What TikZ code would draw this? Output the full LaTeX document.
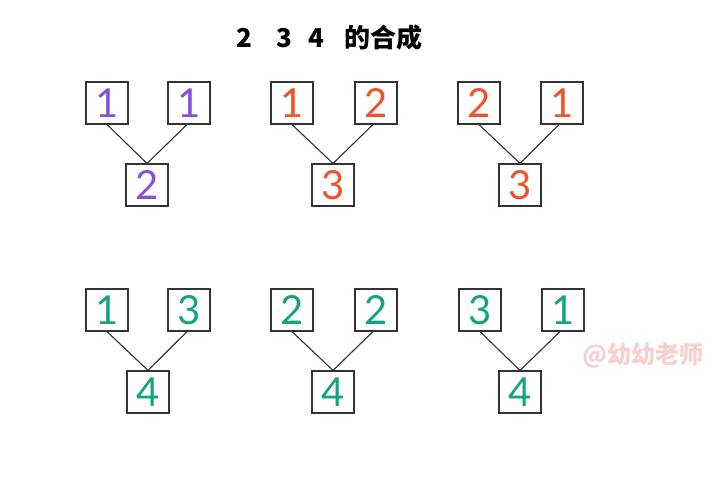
\documentclass[tikz,border=0pt]{standalone}
\usepackage{fontspec}
\usepackage{xcolor}
\usetikzlibrary{positioning}
\setmainfont{Lato}
\newfontfamily\cjk{Noto Sans CJK SC}
\definecolor{zipurple}{HTML}{8A4FD8}
\definecolor{zired}{HTML}{F0522A}
\definecolor{zigreen}{HTML}{16A37F}
\definecolor{shuiyin}{HTML}{F7CFCF}
\tikzset{
  numbox/.style={draw=black!80, line width=1.1pt, minimum width=42pt, minimum height=42pt,
    inner sep=0pt, font=\fontsize{40}{40}\selectfont},
  link/.style={draw=black!80, line width=1.1pt}
}

\begin{document}
\begin{tikzpicture}[x=1pt, y=-1pt]
     \useasboundingbox[fill=white] (0,0) rectangle (716,500);
     \node[anchor=west, inner sep=0pt, font=\cjk\bfseries\fontsize{26}{26}\selectfont] (title) at (236,38)
     {2\hspace{24pt}3\hspace{17pt}4\hspace{20pt}的合成};
     % 2 = 1 + 1
     \node[numbox, text=zipurple] (a1) at (107,103) {1};
     \node[numbox, text=zipurple] (a2) at (189,103) {1};
     \node[numbox, text=zipurple] (a0) at (147,185) {2};
     % 3 = 1 + 2
     \node[numbox, text=zired] (b1) at (292,103) {1};
     \node[numbox, text=zired] (b2) at (376,103) {2};
     \node[numbox, text=zired] (b0) at (333,185) {3};
     % 3 = 2 + 1
     \node[numbox, text=zired] (c1) at (479,103) {2};
     \node[numbox, text=zired] (c2) at (562,103) {1};
     \node[numbox, text=zired] (c0) at (520,185) {3};
     % 4 = 1 + 3
     \node[numbox, text=zigreen] (d1) at (107,310) {1};
     \node[numbox, text=zigreen] (d2) at (189,310) {3};
     \node[numbox, text=zigreen] (d0) at (148,392) {4};
     % 4 = 2 + 2
     \node[numbox, text=zigreen] (e1) at (292,310) {2};
     \node[numbox, text=zigreen] (e2) at (376,310) {2};
     \node[numbox, text=zigreen] (e0) at (333,392) {4};
     % 4 = 3 + 1
     \node[numbox, text=zigreen] (f1) at (480,310) {3};
     \node[numbox, text=zigreen] (f2) at (563,310) {1};
     \node[numbox, text=zigreen] (f0) at (520,392) {4};
     \draw[link] (a1.south) -- (a0.north);
     \draw[link] ([xshift=-2pt]a2.south) -- (a0.north);
     \draw[link] (b1.south) -- (b0.north);
     \draw[link] ([xshift=-3pt]b2.south) -- (b0.north);
     \draw[link] (c1.south) -- (c0.north);
     \draw[link] ([xshift=-3pt]c2.south) -- (c0.north);
     \draw[link] (d1.south) -- (d0.north);
     \draw[link] ([xshift=-2pt]d2.south) -- (d0.north);
     \draw[link] (e1.south) -- (e0.north);
     \draw[link] ([xshift=-3pt]e2.south) -- (e0.north);
     \draw[link] (f1.south) -- (f0.north);
     \draw[link] ([xshift=-3pt]f2.south) -- (f0.north);
     \node[text=shuiyin, font=\cjk\bfseries\fontsize{24}{24}\selectfont] (mark) at (643,356) {@幼幼老师};
\end{tikzpicture}
\end{document}
